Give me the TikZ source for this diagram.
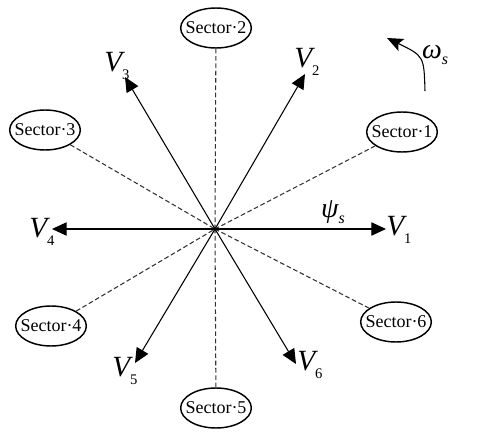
\documentclass[tikz,border=0pt]{standalone}
\usepackage{fontspec}
\setmainfont{Liberation Serif}
\usetikzlibrary{shapes.geometric, arrows.meta, positioning}

% vector name with a lowered index
\newcommand{\vecname}[1]{{\fontsize{22}{22}\selectfont\itshape V}\raisebox{-6pt}{\fontsize{11}{11}\selectfont #1}}

\begin{document}
\begin{tikzpicture}[x=0.75pt, y=-0.75pt,
    sector/.style={ellipse, draw, line width=1.1pt, minimum width=53pt, minimum height=30pt, inner sep=0pt, font=\fontsize{13.5}{15}\selectfont},
    vec/.style={-{Triangle[length=11pt,width=10pt]}, line width=0.8pt},
    border/.style={dash pattern=on 3.5pt off 2pt, line width=0.8pt, black!80},
    vlabel/.style={anchor=base west, inner sep=0pt}]
    \useasboundingbox (0,0) rectangle (480,435);
    \coordinate (O) at (215,229);

    % Sectors and their borders
    \foreach \n/\x/\y in {1/402/132, 2/216/28, 3/45/130, 4/51/326, 5/216/408, 6/396/322} {
        \node[sector] (s\n) at (\x,\y) {\makebox[24pt]{Sector·\n}};
        \draw[border] (s\n) -- (O);
    }

    % Voltage vectors
    \foreach \n/\x/\y in {1/386/229, 2/305/74, 3/125/77, 4/52/229, 5/135/363, 6/296/364} {
        \coordinate (v\n) at (\x,\y);
        \draw[vec] (O) -- (v\n);
    }
    \node[vlabel] (l1) at (386,236) {\vecname{1}};
    \node[vlabel] (l2) at (294,68) {\vecname{2}};
    \node[vlabel] (l3) at (104,72) {\vecname{3}};
    \node[vlabel] (l4) at (29,238) {\vecname{4}};
    \node[vlabel] (l5) at (112,377) {\vecname{5}};
    \node[vlabel] (l6) at (297,371) {\vecname{6}};

    % Flux and rotation
    \node[inner sep=0pt] (psi) at (333,212) {{\fontsize{21}{21}\selectfont\itshape ψ}\raisebox{-5pt}{\fontsize{12}{12}\selectfont\itshape s}};
    \coordinate (w0) at (425,91);
    \coordinate (w1) at (387,38);
    \draw[-{Stealth[length=12pt,width=10pt,inset=2.5pt]}, line width=0.8pt] (w0) .. controls (424,56) .. (w1);
    \node[inner sep=0pt] (omega) at (435,55) {{\fontsize{21}{21}\selectfont\itshape ω}\raisebox{-5pt}{\fontsize{12}{12}\selectfont\itshape s}};
\end{tikzpicture}
\end{document}
